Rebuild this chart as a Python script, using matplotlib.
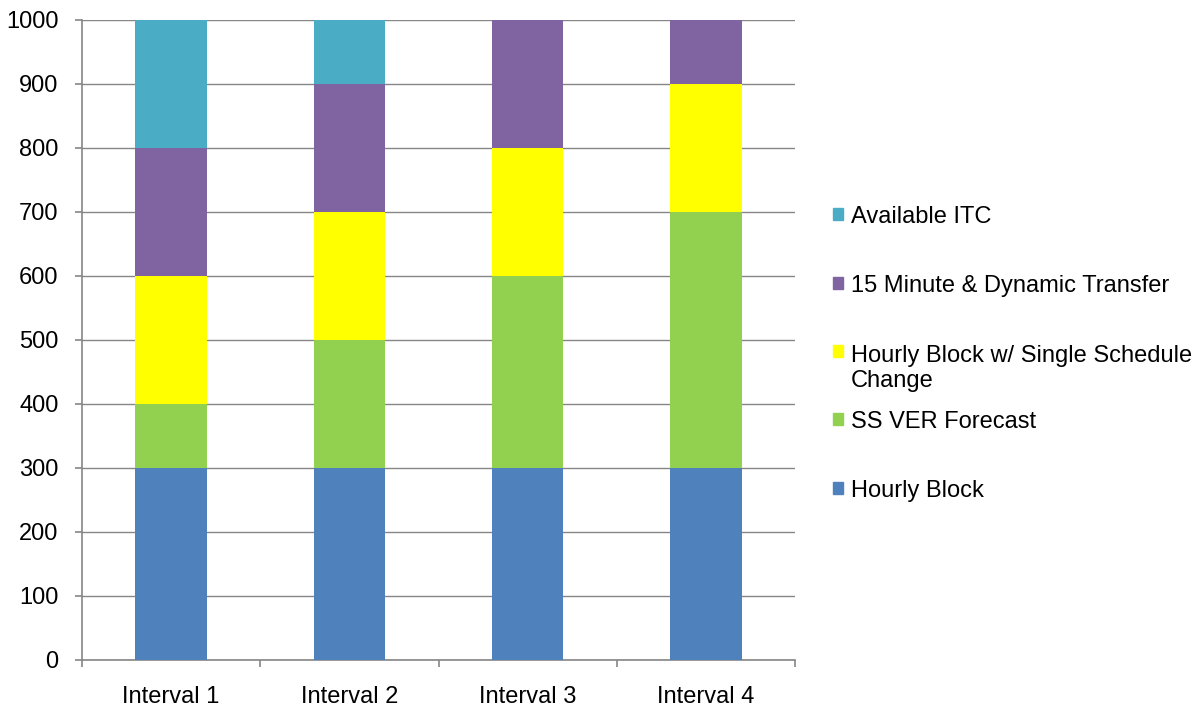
import numpy as np
import matplotlib.pyplot as plt
from matplotlib.patches import Rectangle

plt.rcParams['font.family'] = ['Liberation Sans', 'DejaVu Sans']

# data
categories = ['Interval 1', 'Interval 2', 'Interval 3', 'Interval 4']
series_names = ['Hourly Block', 'SS VER Forecast',
                'Hourly Block w/ Single Schedule\nChange',
                '15 Minute & Dynamic Transfer', 'Available ITC']
hourly_block = [300, 300, 300, 300]
ss_ver = [100, 200, 300, 400]
hourly_single = [200, 200, 200, 200]
fifteen_min = [200, 200, 200, 100]
available_itc = [200, 100, 0, 0]
colors = ['#4F81BD', '#92D050', '#FFFF00', '#8064A2', '#4BACC6']

W, H = 1204, 708
fig = plt.figure(figsize=(W / 100, H / 100), dpi=100)
ax = fig.add_axes([82 / W, (H - 660) / H, (795 - 82) / W, 640 / H])

x = np.arange(len(categories))
bottom = np.zeros(len(categories))
all_series = [hourly_block, ss_ver, hourly_single, fifteen_min, available_itc]
for vals, c in zip(all_series, colors):
    ax.bar(x, vals, width=0.4, bottom=bottom, color=c, zorder=3)
    bottom += np.array(vals)

grid_c = '#868686'
ax.set_xlim(-0.5, 3.5)
ax.set_ylim(0, 1000)
ax.set_yticks(np.arange(0, 1001, 100))
ax.yaxis.grid(True, color=grid_c, linewidth=1.0, zorder=0)
ax.set_axisbelow(True)
for s in ['top', 'right']:
    ax.spines[s].set_visible(False)
for s in ['left', 'bottom']:
    ax.spines[s].set_color(grid_c)
    ax.spines[s].set_linewidth(1.2)

ax.set_xticks(x)
ax.set_xticklabels(categories)
ax.set_xticks(np.arange(-0.5, 3.6, 1.0), minor=True)
ax.tick_params(axis='x', which='major', length=0, pad=19, labelsize=17)
ax.tick_params(axis='x', which='minor', length=5, color=grid_c, width=1.2)
ax.tick_params(axis='y', length=5, color=grid_c, width=1.2, pad=12, labelsize=17)

# legend, drawn by hand to match the spacing of the original
# (pixel baseline of the first line of each entry)
baselines = [497, 428, 360, 292, 223]
line_h = 27
for name, c, yb in zip(series_names, colors, baselines):
    extra = line_h * name.count('\n')
    fig.text(851 / W, 1 - (yb + extra) / H, name, fontsize=17, va='baseline',
             ha='left', linespacing=1.2)
    fig.patches.append(Rectangle((833 / W, 1 - (yb - 3) / H), 10 / W, 12 / H,
                                 transform=fig.transFigure, color=c))

fig.savefig('out.png', dpi=100)
